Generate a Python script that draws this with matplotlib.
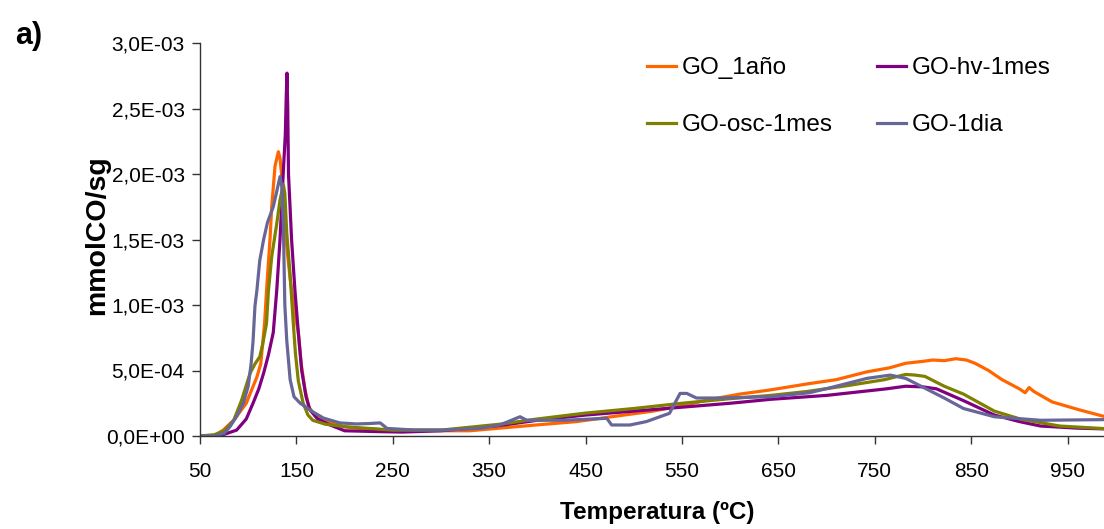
import numpy as np
import matplotlib
matplotlib.use("Agg")
import matplotlib.pyplot as plt
from matplotlib.ticker import FuncFormatter, MultipleLocator

# Temperatures (ºC) and CO evolution (mmol CO / s g, in units of 1e-3)
t_ano = [50, 65, 74, 85, 98, 104, 109, 113, 117, 119, 122.6, 124.4, 127.8, 131.3, 133, 134.6, 136.4,
         140, 143.5, 148, 152, 155, 159, 163, 170, 178, 190, 200, 220, 250, 300, 330, 361, 400, 441,
         480, 520, 549, 580, 610, 640, 682, 710, 742, 765, 782, 800, 810, 822, 834, 845, 854, 868,
         882, 900, 906, 910, 915, 934, 962, 989, 1010]
y_ano = [0, 0, 0.045, 0.12, 0.25, 0.36, 0.45, 0.55, 0.86, 1.11, 1.50, 1.75, 2.06, 2.17, 2.12, 2.0,
         1.75, 1.45, 1.2, 0.95, 0.79, 0.55, 0.35, 0.22, 0.15, 0.12, 0.09, 0.07, 0.055, 0.045, 0.04,
         0.04, 0.06, 0.085, 0.11, 0.15, 0.19, 0.23, 0.28, 0.32, 0.35, 0.40, 0.43, 0.49, 0.52, 0.555,
         0.57, 0.58, 0.575, 0.59, 0.58, 0.555, 0.50, 0.43, 0.36, 0.33, 0.37, 0.34, 0.26, 0.20, 0.147,
         0.12]

t_hv = [50, 70, 88, 98, 105, 111, 116, 121, 126, 129.6, 133, 136.5, 138.5, 139.5, 140.2, 141,
        141.8, 145, 148.5, 152, 155.5, 160, 164, 172, 185, 200, 237, 260, 300, 361, 400, 450, 500,
        550, 600, 642, 700, 762, 782, 800, 814, 842, 874, 900, 922, 960, 1010]
y_hv = [0, 0, 0.045, 0.13, 0.25, 0.36, 0.48, 0.62, 0.79, 1.11, 1.5, 2.03, 2.3, 2.6, 2.77, 2.5, 2.0,
        1.5, 1.11, 0.79, 0.50, 0.30, 0.20, 0.13, 0.084, 0.04, 0.033, 0.03, 0.04, 0.08, 0.12, 0.16,
        0.19, 0.22, 0.25, 0.28, 0.31, 0.36, 0.38, 0.375, 0.36, 0.27, 0.16, 0.11, 0.076, 0.06, 0.05]

t_osc = [50, 65, 75, 85, 93, 102, 107, 112, 115, 119, 121, 124.4, 129.6, 133, 136.4, 138, 140,
         143.4, 146.8, 149, 152, 157, 162, 167, 180, 202, 250, 300, 361, 400, 450, 500, 550, 600,
         642, 680, 722, 760, 782, 792, 802, 822, 842, 874, 902, 942, 989, 1010]
y_osc = [0, 0.01, 0.04, 0.12, 0.27, 0.48, 0.55, 0.605, 0.70, 0.86, 1.11, 1.37, 1.62, 1.80, 1.92,
         1.85, 1.55, 1.24, 0.86, 0.63, 0.42, 0.25, 0.16, 0.12, 0.09, 0.07, 0.045, 0.045, 0.09, 0.13,
         0.175, 0.21, 0.25, 0.285, 0.31, 0.34, 0.385, 0.43, 0.47, 0.465, 0.455, 0.38, 0.32, 0.19,
         0.127, 0.076, 0.056, 0.05]

t_dia = [50, 65, 75, 81, 88, 95, 100, 103, 105, 107, 109, 112, 116, 120, 126, 130, 133, 135, 136.5,
         138, 140, 143.5, 147.5, 154, 160, 167, 178, 195, 212, 225, 237, 244, 271, 306, 340, 361,
         382, 389, 427, 472, 477, 496, 513, 537, 548, 555, 565, 589, 642, 682, 702, 742, 766, 782,
         802, 822, 842, 874, 922, 989, 1010]
y_dia = [0, 0, 0.02, 0.07, 0.15, 0.25, 0.38, 0.55, 0.72, 0.99, 1.11, 1.34, 1.50, 1.63, 1.75, 1.88,
         1.98, 1.90, 1.60, 1.0, 0.73, 0.43, 0.30, 0.25, 0.22, 0.185, 0.137, 0.10, 0.092, 0.095, 0.10,
         0.058, 0.046, 0.046, 0.058, 0.084, 0.147, 0.12, 0.12, 0.135, 0.084, 0.084, 0.11, 0.173,
         0.325, 0.325, 0.29, 0.29, 0.30, 0.33, 0.365, 0.44, 0.465, 0.44, 0.365, 0.29, 0.21, 0.147,
         0.12, 0.125, 0.125]

series = [
    ("GO_1año", t_ano, y_ano, "#FF6600"),
    ("GO-hv-1mes", t_hv, y_hv, "#800080"),
    ("GO-osc-1mes", t_osc, y_osc, "#808000"),
    ("GO-1dia", t_dia, y_dia, "#666699"),
]

x_ticks = [50, 150, 250, 350, 450, 550, 650, 750, 850, 950]

sans = ["Liberation Sans", "DejaVu Sans"]
plt.rcParams["font.family"] = sans

W, H = 1104, 529
fig = plt.figure(figsize=(W / 100, H / 100), dpi=100)
# the plotting area runs past the right edge of the figure
ax = fig.add_axes([200 / W, (H - 436) / H, 964 / W, 393 / H])

lines = {}
for name, t, y, c in series:
    (ln,) = ax.plot(t, np.array(y) * 1e-3, color=c, lw=2.3, label=name,
                    solid_joinstyle="round")
    lines[name] = ln

ax.set_xlim(50, 1050)
ax.set_ylim(0, 3.0e-3)
ax.set_xticks(x_ticks)
ax.yaxis.set_major_locator(MultipleLocator(5e-4))
ax.yaxis.set_major_formatter(FuncFormatter(lambda v, p: f"{v:.1E}".replace(".", ",")))

for s in ("top", "right"):
    ax.spines[s].set_visible(False)
for s in ("left", "bottom"):
    ax.spines[s].set_color("#333333")
    ax.spines[s].set_linewidth(1.0)
ax.tick_params(axis="both", direction="out", length=6, width=1.0, color="#333333",
               labelsize=15, labelcolor="black")
ax.tick_params(axis="x", pad=13)
ax.tick_params(axis="y", pad=5)

order = ["GO_1año", "GO-osc-1mes", "GO-hv-1mes", "GO-1dia"]
leg = fig.legend([lines[n] for n in order], order, ncol=2, frameon=False,
                 loc="upper left", bbox_to_anchor=(647 / W, 1 - 57 / H),
                 prop={"family": sans, "size": 17.5},
                 handlelength=1.2, handletextpad=0.25, columnspacing=1.8,
                 labelspacing=1.45, borderpad=0, borderaxespad=0)

fig.text(657 / W, 16 / H, "Temperatura (ºC)", ha="center", va="center",
         fontsize=17.5, fontweight="bold")
fig.text(97 / W, 1 - 235 / H, "mmolCO/sg", ha="center", va="center", rotation=90,
         fontsize=20.5, fontweight="bold")
fig.text(29 / W, 1 - 36 / H, "a)", ha="center", va="center",
         fontsize=22, fontweight="bold")

fig.savefig("out.png", dpi=100)
